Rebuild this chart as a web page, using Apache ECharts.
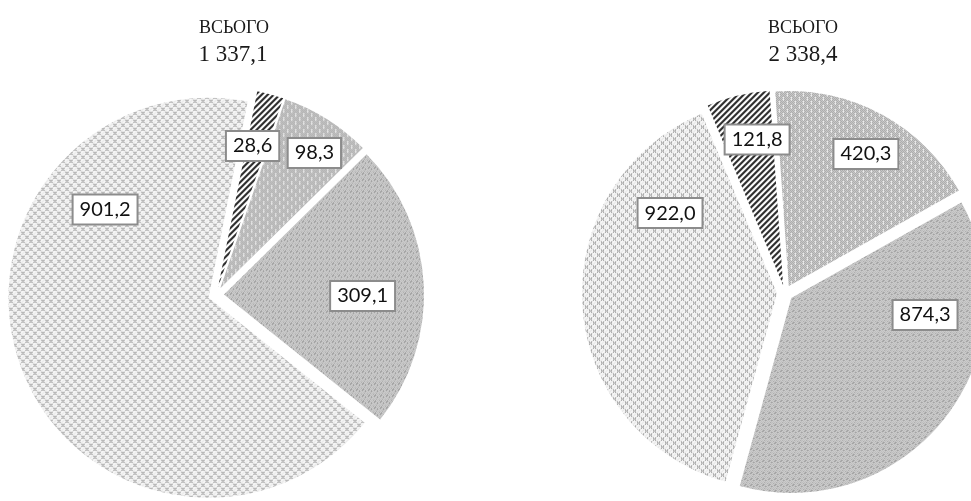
<!DOCTYPE html>
<html><head><meta charset="utf-8">
<script src="https://cdn.jsdelivr.net/npm/echarts@6/dist/echarts.min.js"></script>
<style>html,body{margin:0;padding:0;background:#fff}#c{width:971px;height:501px}</style>
</head><body><div id="c"></div>
<script>
// ---- data ----
const categories = ['Категорія 1', 'Категорія 2', 'Категорія 3', 'Категорія 4'];
const leftValues = [98.3, 309.1, 901.2, 28.6];
const rightValues = [420.3, 874.3, 922.0, 121.8];
const titleWord = 'ВСЬОГО';
const leftTotal = '1 337,1';
const rightTotal = '2 338,4';

// ---- layout / style ----
const pies = [
  { center: [216, 295], r: 200, start: 71 },
  { center: [785, 293], r: 195, start: 94 }
];
// label placement: [clock angle in degrees, fraction of radius]
const labelPlace = [
  [[34.7, 0.864], [90.4, 0.733], [307.6, 0.70], [13.8, 0.767]],
  [[30.2, 0.825], [98.9, 0.727], [304.8, 0.718], [349.7, 0.80]]
];

function makePattern(w, h, fn) {
  const c = document.createElement('canvas');
  c.width = w; c.height = h;
  const ctx = c.getContext('2d');
  for (let y = 0; y < h; y++) for (let x = 0; x < w; x++) {
    ctx.fillStyle = fn(x, y); ctx.fillRect(x, y, 1, 1);
  }
  return { image: c, repeat: 'repeat' };
}
const patterns = [
  makePattern(8, 8, (x, y) => {
    if ((x === 3 && y < 4) || (x === 7 && y >= 4)) return '#f2f2f2';
    return ((x + y) % 2) ? '#a6a6a6' : '#cfcfcf';
  }),
  makePattern(6, 6, (x, y) => {
    if ((x * 3 + y * 5) % 7 === 0) return '#9a9a9a';
    return ((x + y) % 2) ? '#b4b4b4' : '#d8d8d8';
  }),
  makePattern(8, 8, (x, y) => {
    const a = [[2, 2], [6, 6]];
    for (const [cx, cy] of a) {
      const dx = Math.abs(x - cx), dy = Math.abs(y - cy);
      if (dx <= 1 && dy <= 1 && dx === dy) return (dx === 0 ? '#a0a0a0' : '#6e6e6e');
    }
    return ((x + y) % 4 === 0) ? '#e2e2e2' : '#f6f6f6';
  }),
  makePattern(6, 6, (x, y) => (((x + y) % 6) < 3 ? '#2b2b2b' : '#ffffff'))
];

function fmt(v) { return v.toFixed(1).replace('.', ','); }

function pieSeries(idx, values) {
  const p = pies[idx];
  return {
    type: 'pie',
    center: p.center,
    radius: p.r,
    startAngle: p.start,
    clockwise: true,
    selectedMode: 'multiple',
    selectedOffset: 8,
    avoidLabelOverlap: false,
    animation: false,
    emphasis: { disabled: true },
    data: values.map((v, i) => ({
      name: categories[i], value: v, selected: true,
      itemStyle: { color: patterns[i] },
      select: { itemStyle: { color: patterns[i] } }
    })),
    label: { show: false },
    labelLine: { show: false }
  };
}

function labelElements(idx, values) {
  const p = pies[idx];
  return values.map((v, i) => {
    const pl = labelPlace[idx][i];
    const a = pl[0] * Math.PI / 180;
    return {
      type: 'text', z: 100, silent: true,
      x: p.center[0] + Math.sin(a) * pl[1] * p.r,
      y: p.center[1] - Math.cos(a) * pl[1] * p.r,
      style: {
        text: fmt(v), fill: '#111', fontFamily: 'Lato', fontSize: 20,
        align: 'center', verticalAlign: 'middle',
        backgroundColor: '#ffffff', borderColor: '#8c8c8c', borderWidth: 2,
        padding: [5, 6, 3, 6]
      }
    };
  });
}

const serif = { fontFamily: 'Liberation Serif', fontWeight: 'normal', color: '#1a1a1a' };
const chart = echarts.init(document.getElementById('c'), null, { renderer: 'canvas' });
chart.setOption({
  backgroundColor: '#ffffff',
  animation: false,
  title: [
    { text: titleWord, left: 229, top: 14, textAlign: 'center', textStyle: Object.assign({ fontSize: 18 }, serif) },
    { text: leftTotal, left: 228, top: 38, textAlign: 'center', textStyle: Object.assign({ fontSize: 23 }, serif) },
    { text: titleWord, left: 798, top: 14, textAlign: 'center', textStyle: Object.assign({ fontSize: 18 }, serif) },
    { text: rightTotal, left: 798, top: 38, textAlign: 'center', textStyle: Object.assign({ fontSize: 23 }, serif) }
  ],
  series: [pieSeries(0, leftValues), pieSeries(1, rightValues)],
  graphic: { elements: labelElements(0, leftValues).concat(labelElements(1, rightValues)) }
});
</script>
</body></html>
